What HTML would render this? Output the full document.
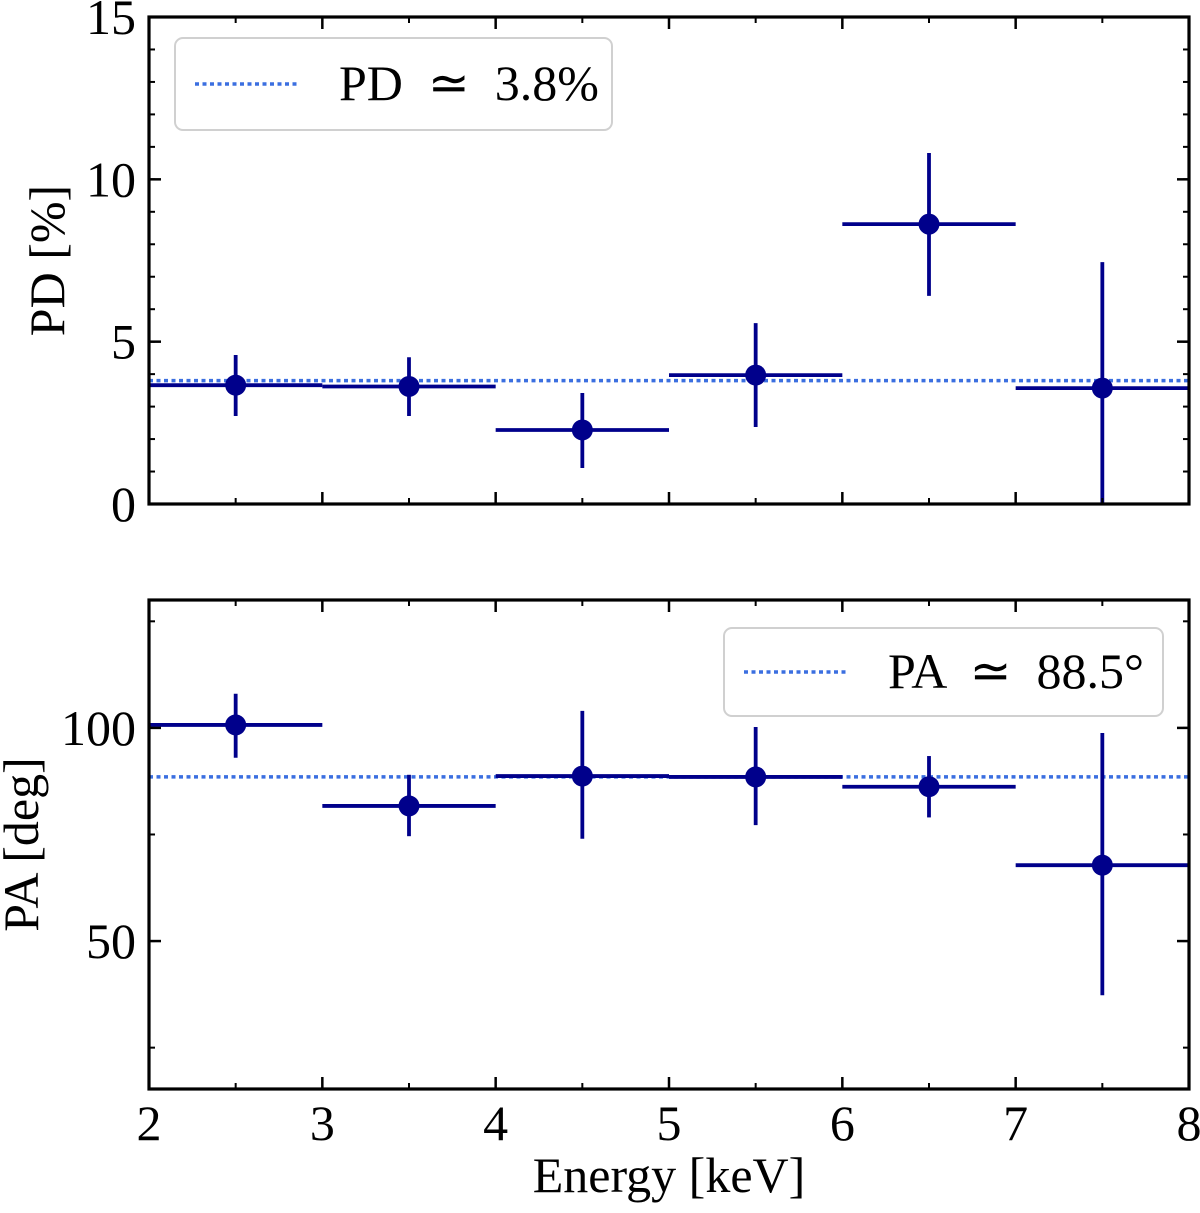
<!DOCTYPE html>
<html><head><meta charset="utf-8"><style>
body{margin:0;background:#fff}
svg text{font-family:"Liberation Serif",serif;fill:#000;white-space:pre}
</style></head><body>
<svg id="c" width="1200" height="1208" xmlns="http://www.w3.org/2000/svg"></svg>
<script>
const energies=[2.5,3.5,4.5,5.5,6.5,7.5];
const pdVals=[3.66,3.62,2.28,3.97,8.62,3.57];
const pdLo=[2.71,2.71,1.11,2.37,6.41,0];
const pdHi=[4.59,4.52,3.42,5.57,10.81,7.45];
const paVals=[100.7,81.7,88.7,88.5,86.2,67.8];
const paLo=[93,74.6,74,77.2,79,37.3];
const paHi=[108,89,104,100.2,93.4,98.8];
const pdMean=3.8, paMean=88.5;
const xTicks=[2,3,4,5,6,7,8];
const pdTicks=[0,5,10,15];
const paTicks=[50,100];

const svg=document.getElementById('c');
const NS='http://www.w3.org/2000/svg';
function mk(t,a,p){const e=document.createElementNS(NS,t);for(const k in a)e.setAttribute(k,a[k]);(p||svg).appendChild(e);return e;}
const X0=149,X1=1189;
const FS=50;
const sx=v=>X0+(v-2)/6*(X1-X0);
const p1={t:17,b:504,min:0,max:15};
const p2={t:600,b:1089,min:15.3,max:130};
const sy=(p,v)=>p.b-(v-p.min)/(p.max-p.min)*(p.b-p.t);

function panel(p,name,vals,lo,hi,mean,ticks,minorStep,label,labelX,showX){
  const g=mk('g',{});
  
  
  const ml=mk('line',{x1:X0,x2:X1,y1:sy(p,mean),y2:sy(p,mean),stroke:'#3b6fe0','stroke-width':3.5,'stroke-dasharray':'4 3.5'},g);
  
  
  energies.forEach((e,i)=>{
    const pg=mk('g',{},g);
    
    
    mk('line',{x1:sx(e-0.5),x2:sx(e+0.5),y1:sy(p,vals[i]),y2:sy(p,vals[i]),stroke:'#00008b','stroke-width':3.8},pg);
    mk('line',{x1:sx(e),x2:sx(e),y1:sy(p,Math.max(lo[i],p.min)),y2:sy(p,hi[i]),stroke:'#00008b','stroke-width':3.8},pg);
    mk('circle',{cx:sx(e),cy:sy(p,vals[i]),r:10.5,fill:'#00008b'},pg);
  });
  xTicks.forEach(t=>{
    mk('line',{x1:sx(t),x2:sx(t),y1:p.b,y2:p.b-12,stroke:'#000','stroke-width':2.5},g);
    mk('line',{x1:sx(t),x2:sx(t),y1:p.t,y2:p.t+12,stroke:'#000','stroke-width':2.5},g);
    if(t<8){
      mk('line',{x1:sx(t+0.5),x2:sx(t+0.5),y1:p.b,y2:p.b-6,stroke:'#000','stroke-width':2},g);
      mk('line',{x1:sx(t+0.5),x2:sx(t+0.5),y1:p.t,y2:p.t+6,stroke:'#000','stroke-width':2},g);
    }
    if(showX){const tx=mk('text',{x:sx(t),y:p.b+51,'text-anchor':'middle','font-size':FS},g);tx.textContent=t;
      }
  });
  for(let v=Math.ceil(p.min/minorStep)*minorStep;v<=p.max;v+=minorStep){
    const y=sy(p,v);
    mk('line',{x1:X0,x2:X0+6,y1:y,y2:y,stroke:'#000','stroke-width':2},g);
    mk('line',{x1:X1,x2:X1-6,y1:y,y2:y,stroke:'#000','stroke-width':2},g);
  }
  ticks.forEach(t=>{
    const y=sy(p,t);
    mk('line',{x1:X0,x2:X0+12,y1:y,y2:y,stroke:'#000','stroke-width':2.5},g);
    mk('line',{x1:X1,x2:X1-12,y1:y,y2:y,stroke:'#000','stroke-width':2.5},g);
    const tx=mk('text',{x:X0-13,y:y+17,'text-anchor':'end','font-size':FS},g);tx.textContent=t;
    
  });
  mk('rect',{x:X0,y:p.t,width:X1-X0,height:p.b-p.t,fill:'none',stroke:'#000','stroke-width':3.2},g);
  const yl=mk('text',{x:0,y:0,'text-anchor':'middle','font-size':FS,transform:`translate(${labelX},${(p.t+p.b)/2}) rotate(-90)`},g);
  yl.textContent=label;
  
}
panel(p1,'pd-panel',pdVals,pdLo,pdHi,pdMean,pdTicks,1,'PD [%]',64,false);
panel(p2,'pa-panel',paVals,paLo,paHi,paMean,paTicks,25,'PA [deg]',38,true);

function legend(x,y,w,h,text,name){
  const g=mk('g',{});
  
  
  mk('rect',{x:x,y:y,width:w,height:h,rx:8,fill:'#fff',stroke:'#ccc','stroke-width':2,opacity:0.9},g);
  mk('line',{x1:x+20,x2:x+124,y1:y+h/2,y2:y+h/2,stroke:'#3b6fe0','stroke-width':3.5,'stroke-dasharray':'4 3.5'},g);
  const t=mk('text',{x:x+164,y:y+h/2+16,'font-size':FS},g);t.textContent=text;
}
legend(175,38,437,92,'PD  \u2243  3.8%','pd-legend');
legend(724,628,439,88,'PA  \u2243  88.5\u00b0','pa-legend');
const xl=mk('text',{x:669,y:1192,'text-anchor':'middle','font-size':FS});
xl.textContent='Energy [keV]';


</script>
</body></html>
